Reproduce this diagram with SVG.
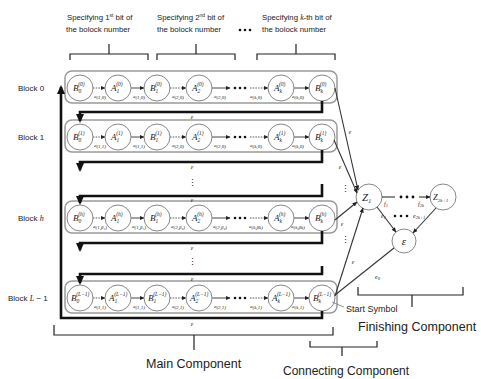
<svg xmlns="http://www.w3.org/2000/svg" width="481" height="379" viewBox="0 0 481 379">
<defs>
<marker id="ah" markerUnits="userSpaceOnUse" markerWidth="5" markerHeight="5" refX="4.5" refY="2.5" orient="auto"><path d="M0,0.4 L5,2.5 L0,4.6 z" fill="#222"/></marker>
<marker id="ak" markerUnits="userSpaceOnUse" markerWidth="9" markerHeight="9" refX="7" refY="4.5" orient="auto"><path d="M0,0.5 L9,4.5 L0,8.5 z" fill="#111"/></marker>
</defs>
<style>
.t{font-family:"Liberation Sans",Arial,sans-serif;fill:#222}
.m{font-family:"Liberation Serif","Times New Roman",serif;font-style:italic;fill:#222}
.blk{fill:none;stroke:#9a9a9a;stroke-width:1.5}
.nd{fill:#fff;stroke:#888;stroke-width:1}
.e{stroke:#333;stroke-width:0.9;fill:none;marker-end:url(#ah)}
.ed{stroke:#444;stroke-width:0.9;stroke-dasharray:1.5 1.2;fill:none;marker-end:url(#ah)}
.k{stroke:#111;stroke-width:2.6;fill:none;marker-end:url(#ak)}
.br{stroke:#222;stroke-width:1.2;fill:none}
.ln{stroke:#333;stroke-width:1.1;fill:none}
.nl{font-size:9px}
.s{font-size:5.5px}
.lb{font-size:5px;text-anchor:middle}
.el{font-size:6.5px;text-anchor:middle}
.dt{fill:#111}
</style>

<!-- top annotations -->
<g id="top-labels">
<text class="t" x="67" y="20" font-size="7.8">Specifying 1<tspan font-size="5" dy="-3">st</tspan><tspan dy="3"> bit of</tspan></text>
<text class="t" x="66" y="32" font-size="7.8">the bolock number</text>
<text class="t" x="157" y="20" font-size="7.8">Specifying 2<tspan font-size="5" dy="-3">nd</tspan><tspan dy="3">  bit of</tspan></text>
<text class="t" x="157" y="32" font-size="7.8">the bolock number</text>
<text class="t" x="262" y="20" font-size="7.8">Specifying <tspan class="m">k</tspan>-th  bit of</text>
<text class="t" x="262" y="32" font-size="7.8">the bolock number</text>
<circle class="dt" cx="240" cy="30" r="1.3"/><circle class="dt" cx="245" cy="30" r="1.3"/><circle class="dt" cx="250" cy="30" r="1.3"/>
<path class="br" d="M70,60 V54 H148 V60 M109,54 V44"/>
<path class="br" d="M157,60 V54 H235 V60 M196,54 V44"/>
<path class="br" d="M257,60 V54 H335 V60 M296,54 V44"/>
</g>

<!-- Block labels -->
<g id="block-labels">
<text class="t" x="18" y="91" font-size="8">Block 0</text>
<text class="t" x="18" y="140" font-size="8">Block 1</text>
<text class="t" x="18" y="221" font-size="8">Block <tspan class="m">h</tspan></text>
<text class="t" x="8" y="301" font-size="8">Block <tspan class="m">L</tspan> − 1</text>
</g>

<!-- Block 0 -->
<g id="block0">
<rect class="blk" x="65" y="71" width="272" height="32" rx="7"/>
<line class="ed" x1="93" y1="88" x2="105" y2="88"/>
<line class="e" x1="131" y1="88" x2="144" y2="88"/>
<line class="ed" x1="170" y1="88" x2="186" y2="88"/>
<line class="e" x1="212" y1="88" x2="230" y2="88"/>
<circle class="dt" cx="235" cy="88" r="1.3"/><circle class="dt" cx="240" cy="88" r="1.3"/><circle class="dt" cx="245" cy="88" r="1.3"/>
<line class="ed" x1="250" y1="88" x2="268" y2="88"/>
<line class="e" x1="294" y1="88" x2="309" y2="88"/>
<g id="n0-B0"><circle class="nd" cx="80" cy="88" r="13"/><text class="m nl" x="73" y="91">B<tspan class="s" dy="2">0</tspan><tspan class="s" dx="-3" dy="-7">(0)</tspan></text></g>
<g id="n0-A1"><circle class="nd" cx="118" cy="88" r="13"/><text class="m nl" x="111" y="91">A<tspan class="s" dy="2">1</tspan><tspan class="s" dx="-3" dy="-7">(0)</tspan></text></g>
<g id="n0-B1"><circle class="nd" cx="157" cy="88" r="13"/><text class="m nl" x="150" y="91">B<tspan class="s" dy="2">1</tspan><tspan class="s" dx="-3" dy="-7">(0)</tspan></text></g>
<g id="n0-A2"><circle class="nd" cx="199" cy="88" r="13"/><text class="m nl" x="192" y="91">A<tspan class="s" dy="2">2</tspan><tspan class="s" dx="-3" dy="-7">(0)</tspan></text></g>
<g id="n0-Ak"><circle class="nd" cx="281" cy="88" r="13"/><text class="m nl" x="274" y="91">A<tspan class="s" dy="2">k</tspan><tspan class="s" dx="-3" dy="-7">(0)</tspan></text></g>
<g id="n0-Bk"><circle class="nd" cx="322" cy="88" r="13"/><text class="m nl" x="315" y="91">B<tspan class="s" dy="2">k</tspan><tspan class="s" dx="-3" dy="-7">(0)</tspan></text></g>
<text class="m lb" x="100" y="98">a<tspan dy="1">(1,0)</tspan></text>
<text class="m lb" x="139" y="98">a<tspan dy="1">(1,0)</tspan></text>
<text class="m lb" x="178" y="98">a<tspan dy="1">(2,0)</tspan></text>
<text class="m lb" x="220" y="98">a<tspan dy="1">(2,0)</tspan></text>
<text class="m lb" x="256" y="98">a<tspan dy="1">(k,0)</tspan></text>
<text class="m lb" x="298" y="98">a<tspan dy="1">(k,0)</tspan></text>
</g>

<!-- Block 1 -->
<g id="block1">
<rect class="blk" x="65" y="120" width="272" height="32" rx="7"/>
<line class="ed" x1="93" y1="137" x2="105" y2="137"/>
<line class="e" x1="131" y1="137" x2="144" y2="137"/>
<line class="ed" x1="170" y1="137" x2="186" y2="137"/>
<line class="e" x1="212" y1="137" x2="230" y2="137"/>
<circle class="dt" cx="235" cy="137" r="1.3"/><circle class="dt" cx="240" cy="137" r="1.3"/><circle class="dt" cx="245" cy="137" r="1.3"/>
<line class="ed" x1="250" y1="137" x2="268" y2="137"/>
<line class="e" x1="294" y1="137" x2="309" y2="137"/>
<g id="n1-B0"><circle class="nd" cx="80" cy="137" r="13"/><text class="m nl" x="73" y="140">B<tspan class="s" dy="2">0</tspan><tspan class="s" dx="-3" dy="-7">(1)</tspan></text></g>
<g id="n1-A1"><circle class="nd" cx="118" cy="137" r="13"/><text class="m nl" x="111" y="140">A<tspan class="s" dy="2">1</tspan><tspan class="s" dx="-3" dy="-7">(1)</tspan></text></g>
<g id="n1-B1"><circle class="nd" cx="157" cy="137" r="13"/><text class="m nl" x="150" y="140">B<tspan class="s" dy="2">1</tspan><tspan class="s" dx="-3" dy="-7">(1)</tspan></text></g>
<g id="n1-A2"><circle class="nd" cx="199" cy="137" r="13"/><text class="m nl" x="192" y="140">A<tspan class="s" dy="2">2</tspan><tspan class="s" dx="-3" dy="-7">(1)</tspan></text></g>
<g id="n1-Ak"><circle class="nd" cx="281" cy="137" r="13"/><text class="m nl" x="274" y="140">A<tspan class="s" dy="2">k</tspan><tspan class="s" dx="-3" dy="-7">(1)</tspan></text></g>
<g id="n1-Bk"><circle class="nd" cx="322" cy="137" r="13"/><text class="m nl" x="315" y="140">B<tspan class="s" dy="2">k</tspan><tspan class="s" dx="-3" dy="-7">(1)</tspan></text></g>
<text class="m lb" x="100" y="147">a<tspan dy="1">(1,1)</tspan></text>
<text class="m lb" x="139" y="147">a<tspan dy="1">(1,1)</tspan></text>
<text class="m lb" x="178" y="147">a<tspan dy="1">(2,0)</tspan></text>
<text class="m lb" x="220" y="147">a<tspan dy="1">(2,0)</tspan></text>
<text class="m lb" x="256" y="147">a<tspan dy="1">(k,0)</tspan></text>
<text class="m lb" x="298" y="147">a<tspan dy="1">(k,0)</tspan></text>
</g>

<!-- Block h -->
<g id="blockh">
<rect class="blk" x="65" y="201" width="272" height="32" rx="7"/>
<line class="ed" x1="93" y1="218" x2="105" y2="218"/>
<line class="e" x1="131" y1="218" x2="144" y2="218"/>
<line class="ed" x1="170" y1="218" x2="186" y2="218"/>
<line class="e" x1="212" y1="218" x2="230" y2="218"/>
<circle class="dt" cx="235" cy="218" r="1.3"/><circle class="dt" cx="240" cy="218" r="1.3"/><circle class="dt" cx="245" cy="218" r="1.3"/>
<line class="ed" x1="250" y1="218" x2="268" y2="218"/>
<line class="e" x1="294" y1="218" x2="309" y2="218"/>
<g id="nh-B0"><circle class="nd" cx="80" cy="218" r="13"/><text class="m nl" x="73" y="221">B<tspan class="s" dy="2">0</tspan><tspan class="s" dx="-3" dy="-7">(h)</tspan></text></g>
<g id="nh-A1"><circle class="nd" cx="118" cy="218" r="13"/><text class="m nl" x="111" y="221">A<tspan class="s" dy="2">1</tspan><tspan class="s" dx="-3" dy="-7">(h)</tspan></text></g>
<g id="nh-B1"><circle class="nd" cx="157" cy="218" r="13"/><text class="m nl" x="150" y="221">B<tspan class="s" dy="2">1</tspan><tspan class="s" dx="-3" dy="-7">(h)</tspan></text></g>
<g id="nh-A2"><circle class="nd" cx="199" cy="218" r="13"/><text class="m nl" x="192" y="221">A<tspan class="s" dy="2">2</tspan><tspan class="s" dx="-3" dy="-7">(h)</tspan></text></g>
<g id="nh-Ak"><circle class="nd" cx="281" cy="218" r="13"/><text class="m nl" x="274" y="221">A<tspan class="s" dy="2">k</tspan><tspan class="s" dx="-3" dy="-7">(h)</tspan></text></g>
<g id="nh-Bk"><circle class="nd" cx="322" cy="218" r="13"/><text class="m nl" x="315" y="221">B<tspan class="s" dy="2">k</tspan><tspan class="s" dx="-3" dy="-7">(h)</tspan></text></g>
<text class="m lb" x="100" y="228">a<tspan dy="1">(1,β₁)</tspan></text>
<text class="m lb" x="139" y="228">a<tspan dy="1">(1,β₁)</tspan></text>
<text class="m lb" x="178" y="228">a<tspan dy="1">(2,β₂)</tspan></text>
<text class="m lb" x="220" y="228">a<tspan dy="1">(2,β₂)</tspan></text>
<text class="m lb" x="256" y="228">a<tspan dy="1">(k,βk)</tspan></text>
<text class="m lb" x="298" y="228">a<tspan dy="1">(k,βk)</tspan></text>
</g>

<!-- Block L-1 -->
<g id="blockL">
<rect class="blk" x="65" y="281" width="272" height="32" rx="7"/>
<line class="ed" x1="93" y1="298" x2="105" y2="298"/>
<line class="e" x1="131" y1="298" x2="144" y2="298"/>
<line class="ed" x1="170" y1="298" x2="186" y2="298"/>
<line class="e" x1="212" y1="298" x2="230" y2="298"/>
<circle class="dt" cx="235" cy="298" r="1.3"/><circle class="dt" cx="240" cy="298" r="1.3"/><circle class="dt" cx="245" cy="298" r="1.3"/>
<line class="ed" x1="250" y1="298" x2="268" y2="298"/>
<line class="e" x1="294" y1="298" x2="309" y2="298"/>
<g id="nL-B0"><circle class="nd" cx="80" cy="298" r="13"/><text class="m nl" x="71" y="301">B<tspan class="s" dy="2">0</tspan><tspan class="s" dx="-3" dy="-7">(L−1)</tspan></text></g>
<g id="nL-A1"><circle class="nd" cx="118" cy="298" r="13"/><text class="m nl" x="109" y="301">A<tspan class="s" dy="2">1</tspan><tspan class="s" dx="-3" dy="-7">(L−1)</tspan></text></g>
<g id="nL-B1"><circle class="nd" cx="157" cy="298" r="13"/><text class="m nl" x="148" y="301">B<tspan class="s" dy="2">1</tspan><tspan class="s" dx="-3" dy="-7">(L−1)</tspan></text></g>
<g id="nL-A2"><circle class="nd" cx="199" cy="298" r="13"/><text class="m nl" x="190" y="301">A<tspan class="s" dy="2">2</tspan><tspan class="s" dx="-3" dy="-7">(L−1)</tspan></text></g>
<g id="nL-Ak"><circle class="nd" cx="281" cy="298" r="13"/><text class="m nl" x="272" y="301">A<tspan class="s" dy="2">k</tspan><tspan class="s" dx="-3" dy="-7">(L−1)</tspan></text></g>
<g id="nL-Bk"><circle class="nd" cx="322" cy="298" r="13"/><text class="m nl" x="313" y="301">B<tspan class="s" dy="2">k</tspan><tspan class="s" dx="-3" dy="-7">(L−1)</tspan></text></g>
<text class="m lb" x="100" y="308">a<tspan dy="1">(1,1)</tspan></text>
<text class="m lb" x="139" y="308">a<tspan dy="1">(1,1)</tspan></text>
<text class="m lb" x="178" y="308">a<tspan dy="1">(2,1)</tspan></text>
<text class="m lb" x="220" y="308">a<tspan dy="1">(2,1)</tspan></text>
<text class="m lb" x="256" y="308">a<tspan dy="1">(k,1)</tspan></text>
<text class="m lb" x="298" y="308">a<tspan dy="1">(k,1)</tspan></text>
</g>

<!-- Finishing nodes -->
<g id="Z1"><circle class="nd" cx="369" cy="197" r="13"/><text class="m" x="362" y="201" font-size="11">Z<tspan font-size="6" dy="2">1</tspan></text></g>
<g id="Z2k1"><circle class="nd" cx="443" cy="197" r="13"/><text class="m" x="433" y="200" font-size="8.5">Z<tspan font-size="5" dy="1.5">2k+1</tspan></text></g>
<g id="eps"><circle class="nd" cx="404" cy="241" r="12"/><text class="m" x="404" y="245" font-size="11" text-anchor="middle">ε</text></g>

<!-- connectors -->
<g id="connectors">
<path class="k" d="M322,101 V112 H80 V121"/>
<path class="k" d="M322,150 V162 H80 V170"/>
<path class="k" d="M322,184 V196 H80 V203"/>
<path class="k" d="M322,231 V243 H80 V250"/>
<path class="k" d="M322,266 V274 H80 V283"/>
<path class="k" d="M322,311 V318 H61 V87"/>
<text class="m el" x="192" y="119">ε</text>
<text class="m el" x="192" y="169">ε</text>
<text class="m el" x="192" y="202">ε</text>
<text class="m el" x="192" y="250">ε</text>
<text class="m el" x="192" y="281">ε</text>
<text class="m el" x="192" y="326">ε</text>
<text class="t" x="192" y="186" font-size="9" text-anchor="middle">⋮</text>
<text class="t" x="192" y="265" font-size="9" text-anchor="middle">⋮</text>

<line class="ln" x1="335" y1="88" x2="358" y2="190" marker-end="url(#ah)"/>
<line class="ln" x1="334" y1="140" x2="357" y2="193" marker-end="url(#ah)"/>
<line class="ln" x1="335" y1="220" x2="357" y2="202" marker-end="url(#ah)"/>
<line class="ln" x1="335" y1="296" x2="363" y2="208" marker-end="url(#ah)"/>
<text class="m el" x="350" y="134">ε</text>
<text class="m el" x="340" y="169">ε</text>
<text class="m el" x="342" y="226">ε</text>
<text class="m el" x="353" y="264">ε</text>
<text class="t" x="345" y="192" font-size="9" text-anchor="middle">⋮</text>
<text class="t" x="345" y="243" font-size="9" text-anchor="middle">⋮</text>

<line class="ln" x1="382" y1="197" x2="395" y2="197"/>
<circle class="dt" cx="401" cy="197" r="1.4"/><circle class="dt" cx="407" cy="197" r="1.4"/><circle class="dt" cx="413" cy="197" r="1.4"/>
<line class="ln" x1="419" y1="197" x2="430" y2="197" marker-end="url(#ah)"/>
<text class="m" x="384" y="206" font-size="6">f<tspan font-size="4.5" dy="1">1</tspan></text>
<text class="m" x="418" y="206" font-size="6">f<tspan font-size="4.5" dy="1">2k</tspan></text>
<text class="m" x="381" y="218" font-size="6">e<tspan font-size="4.5" dy="1">1</tspan></text>
<circle class="dt" cx="395" cy="216" r="1.3"/><circle class="dt" cx="401" cy="216" r="1.3"/><circle class="dt" cx="407" cy="216" r="1.3"/>
<text class="m" x="413" y="218" font-size="6">e<tspan font-size="4.5" dy="1">2k+1</tspan></text>

<line class="ln" x1="377" y1="207" x2="396" y2="232" marker-end="url(#ah)"/>
<line class="ln" x1="436" y1="208" x2="413" y2="233" marker-end="url(#ah)"/>
<line class="ln" x1="394" y1="248" x2="335" y2="295"/>
<text class="m" x="375" y="279" font-size="6">e<tspan font-size="4.5" dy="1">0</tspan></text>
<line stroke="#777" stroke-width="0.8" x1="332" y1="302" x2="344" y2="307"/>
</g>

<!-- bottom annotations -->
<g id="bottom-labels">
<text class="t" x="346" y="312" font-size="9">Start Symbol</text>
<path class="br" d="M54,325 V335 H333 V327 M194,335 V350"/>
<text class="t" x="146" y="368" font-size="12.5">Main Component</text>
<path class="br" d="M310,341 V347 H377 V341 M342,347 V356"/>
<text class="t" x="283" y="375" font-size="12">Connecting Component</text>
<path class="br" d="M358,287 V295 H463 V287 M412,295 V307"/>
<text class="t" x="358" y="331" font-size="12.5">Finishing  Component</text>
</g>
</svg>
